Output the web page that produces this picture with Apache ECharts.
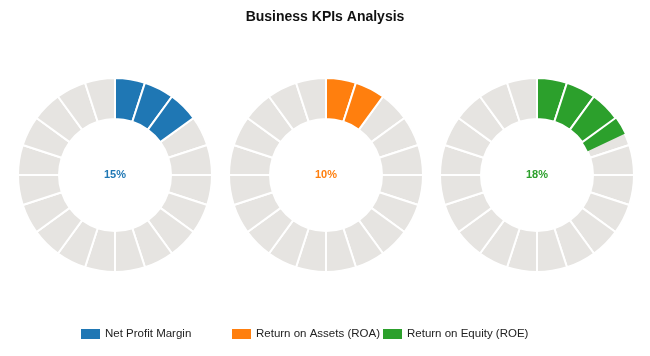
<!DOCTYPE html>
<html>
<head>
<meta charset="utf-8">
<script src="https://cdn.jsdelivr.net/npm/echarts@6/dist/echarts.min.js"></script>
<style>html,body{margin:0;padding:0;background:#fff;}#c{width:650px;height:356px;}</style>
</head>
<body>
<div id="c"></div>
<script>
// Data
var kpiNames = ['Net Profit Margin', 'Return on Assets (ROA)', 'Return on Equity (ROE)'];
var kpiValues = [15, 10, 18];
var kpiLabels = ['15%', '10%', '18%'];
var kpiColors = ['#1f77b4', '#ff7f0e', '#2ca02c'];
var segmentCount = 20;
var segmentSize = 5;

// Layout (pixels)
var centersX = [115, 326, 537];
var centerY = 175;
var radius = [56, 97];
var legendLefts = [81, 232, 383];
var bgColor = '#e6e4e1';

var series = [];
var titles = [{
  text: 'Business KPIs Analysis',
  left: 'center', top: 10, padding: 0,
  textStyle: {fontFamily: 'Liberation Sans, Arial, sans-serif', fontSize: 14, fontWeight: 'bold', color: '#111'}
}];
var legends = [];

kpiValues.forEach(function (v, k) {
  var common = {
    type: 'pie', radius: radius, center: [centersX[k], centerY],
    startAngle: 90, clockwise: true, silent: true,
    label: {show: false}, labelLine: {show: false},
    emphasis: {disabled: true}, animation: false, avoidLabelOverlap: false
  };
  // background grey segments
  var bg = [];
  for (var i = 0; i < segmentCount; i++) {
    bg.push({value: segmentSize, name: 'seg' + i,
      itemStyle: {color: bgColor, borderColor: '#fff', borderWidth: 2}});
  }
  series.push(Object.assign({}, common, {z: 1, data: bg}));

  var full = Math.floor(v / segmentSize);
  var partial = v - full * segmentSize;
  var total = segmentCount * segmentSize;

  // partial segment layer (no border)
  series.push(Object.assign({}, common, {z: 2, data: [
    {value: full * segmentSize, name: 'pre', itemStyle: {color: 'rgba(0,0,0,0)', borderWidth: 0}},
    {value: partial, name: kpiNames[k], itemStyle: {color: kpiColors[k], borderWidth: 0}},
    {value: total - full * segmentSize - partial, name: 'post', itemStyle: {color: 'rgba(0,0,0,0)', borderWidth: 0}}
  ]}));

  // full segments layer
  var fg = [];
  for (var j = 0; j < full; j++) {
    fg.push({value: segmentSize, name: kpiNames[k],
      itemStyle: {color: kpiColors[k], borderColor: '#fff', borderWidth: 2}});
  }
  fg.push({value: total - full * segmentSize, name: 'rest',
    itemStyle: {color: 'rgba(0,0,0,0)', borderWidth: 0}});
  series.push(Object.assign({}, common, {z: 3, data: fg}));

  titles.push({
    text: kpiLabels[k], left: centersX[k], top: centerY, textAlign: 'center', textVerticalAlign: 'middle', padding: 0,
    textStyle: {fontFamily: 'Liberation Sans, Arial, sans-serif', fontSize: 11, fontWeight: 'bold', color: kpiColors[k]}
  });

  legends.push({
    data: [{name: kpiNames[k], icon: 'rect'}],
    left: legendLefts[k], top: 328, padding: 0, orient: 'horizontal',
    itemWidth: 19, itemHeight: 10, itemGap: 5, selectedMode: false,
    textStyle: {fontFamily: 'Liberation Sans, Arial, sans-serif', fontSize: 11.5, color: '#222'}
  });
});

var chart = echarts.init(document.getElementById('c'), null, {renderer: 'canvas'});
chart.setOption({
  backgroundColor: '#fff',
  animation: false,
  title: titles,
  legend: legends,
  series: series
});
</script>
</body>
</html>
